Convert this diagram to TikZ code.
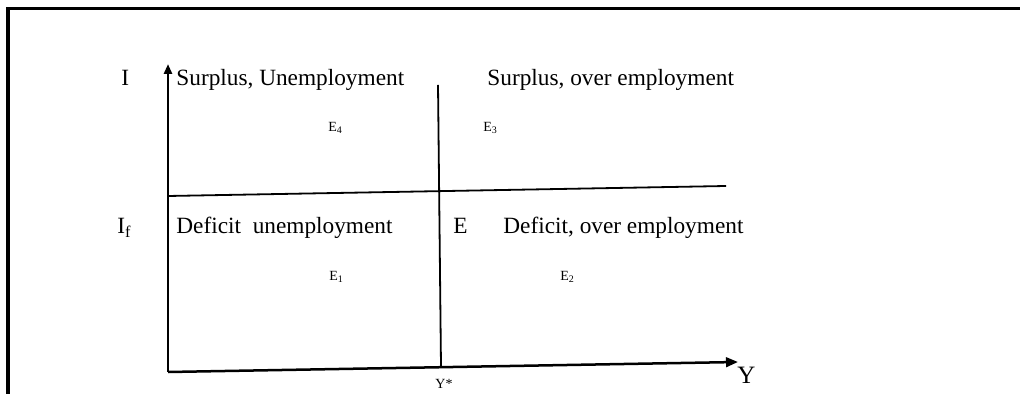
\documentclass[tikz,border=0pt]{standalone}
\usepackage{fontspec}
\setmainfont{Liberation Serif}
\usetikzlibrary{arrows.meta,positioning}
\tikzset{
  txt/.style={anchor=base west, inner sep=0pt, font=\fontsize{11.65}{14}\selectfont},
  sml/.style={anchor=base west, inner sep=0pt, font=\fontsize{7}{8}\selectfont},
  axis/.style={line width=1.25pt, -{Triangle[length=#1, width=0.8*#1]}},
  divline/.style={line width=0.9pt},
  frame/.style={line width=1.8pt},
}

\begin{document}
\begin{tikzpicture}[x=0.5pt, y=-0.5pt]
  \useasboundingbox (0,0) rectangle (1020,394);
  % outer frame
  \draw[frame] (8,394) -- (8,8.5) -- (1020,8.5);

  % axes
  \coordinate (O)    at (168,372);
  \coordinate (Itop) at (168,64);
  \coordinate (Yend) at (738,362);
  \draw[axis=5pt] (O) -- (Itop);
  \draw[axis=6pt] (O) -- (Yend);

  % I_f line and Y* line
  \coordinate (If1) at (168,196);
  \coordinate (If2) at (726,186);
  \coordinate (Ys1) at (438,85);
  \coordinate (Ys2) at (441,367);
  \draw[divline] (If1) -- (If2);
  \draw[divline] (Ys1) -- (Ys2);

  % axis labels
  \node[txt] (lI)  at (121,86)  {I};
  \node[txt] (lIf) at (117,234) {I\textsubscript{f}};
  \node[txt, font=\fontsize{12.5}{14}\selectfont] (lY) at (737,383) {Y};
  \node[sml] (lYs) at (435,388) {Y*};

  % quadrants
  \node[txt] (q4) at (176,86)  {Surplus, Unemployment};
  \node[txt] (q3) at (487,86)  {Surplus, over employment};
  \node[txt] (q1) at (176,234) {Deficit\ \ unemployment};
  \node[txt] (lE) at (453,234) {E};
  \node[txt] (q2) at (503,234) {Deficit, over employment};

  \node[sml] (e4) at (328,132) {E\textsubscript{4}};
  \node[sml] (e3) at (483,132) {E\textsubscript{3}};
  \node[sml] (e1) at (329,281) {E\textsubscript{1}};
  \node[sml] (e2) at (560,281) {E\textsubscript{2}};
\end{tikzpicture}
\end{document}
